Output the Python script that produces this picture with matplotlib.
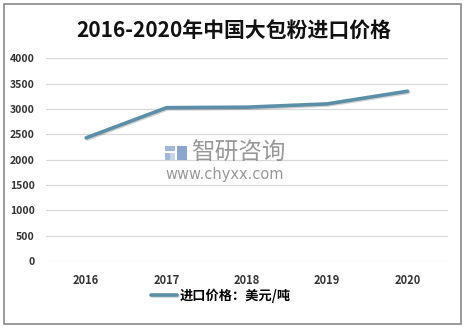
import matplotlib.pyplot as plt
import matplotlib.patheffects as pe
from matplotlib.patches import Rectangle

plt.rcParams['font.family'] = ['Noto Sans CJK SC', 'DejaVu Sans']

years = ['2016', '2017', '2018', '2019', '2020']
price = [2430, 3025, 3035, 3100, 3350]
yticks = [0, 500, 1000, 1500, 2000, 2500, 3000, 3500, 4000]

W, H = 467, 327
fig = plt.figure(figsize=(W / 100, H / 100), dpi=100)
fig.patches.append(Rectangle((4 / W, 3 / H), 457 / W, 320 / H, transform=fig.transFigure,
                             fill=False, edgecolor='#888888', linewidth=1.2))

ax = fig.add_axes([0.0985, 0.2018, 0.86, 0.62])
x = range(len(years))
ax.plot(x, price, color='#5B8FA8', linewidth=2.6, solid_capstyle='round',
        label='进口价格：美元/吨',
        path_effects=[pe.SimpleLineShadow(offset=(0.8, -0.8), alpha=0.18), pe.Normal()])

ax.set_xlim(-0.5, 4.5)
ax.set_ylim(0, 4000)
ax.set_yticks(yticks)
ax.set_xticks(list(x))
ax.set_xticklabels(years, fontsize=8, fontweight='bold', color='#333333')
ax.set_yticklabels([str(v) for v in yticks], fontsize=7.5, fontweight='bold', color='#333333')
ax.tick_params(length=0, pad=8)
ax.tick_params(axis='x', pad=9)
ax.grid(axis='y', color='#D9D9D9', linewidth=0.9)
ax.set_axisbelow(True)
for s in ax.spines.values():
    s.set_visible(False)

fig.text(0.5, 0.905, '2016-2020年中国大包粉进口价格', ha='center', va='center',
         fontsize=15, fontweight='semibold', color='#111111')

# watermark: logo blocks + name + url
for (lx, ly, lw, lh, c) in [(165, 146, 10, 5, '#8DA6CC'), (165, 153, 5, 7, '#8DA6CC'),
                            (177, 146, 10, 14, '#6F8FC0'), (170, 153, 5, 7, '#B9C8E0')]:
    fig.patches.append(Rectangle((lx / W, 1 - (ly + lh) / H), lw / W, lh / H,
                                 transform=fig.transFigure, color=c, alpha=0.8, linewidth=0))
fig.text(191 / W, 1 - 153 / H, '智研咨询', fontsize=17, color='#7F7F7F', alpha=0.8, va='center')
fig.text(165 / W, 1 - 174 / H, 'www.chyxx.com', fontsize=10.5, color='#7F7F7F', alpha=0.8,
         va='center', fontfamily='DejaVu Sans')

ax.legend(loc='center', bbox_to_anchor=(0.435, -0.17), frameon=False, handlelength=2.0,
          handletextpad=0.2, prop={'size': 9.5, 'weight': 'bold'})

fig.savefig('out.png', dpi=100)
